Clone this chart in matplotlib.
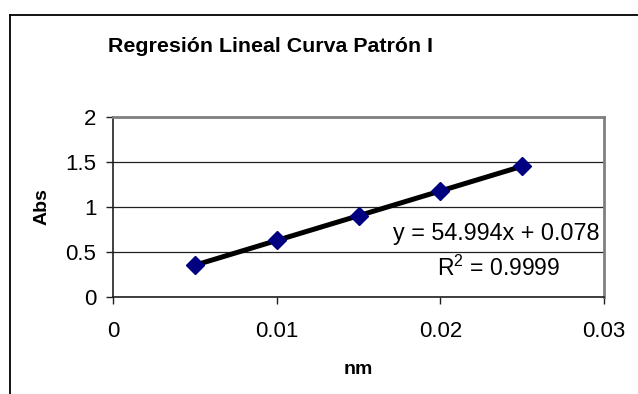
import matplotlib
matplotlib.use("Agg")
import matplotlib.pyplot as plt
from matplotlib.lines import Line2D
from matplotlib import font_manager
import numpy as np

plt.rcParams['font.family'] = ['Liberation Sans', 'DejaVu Sans']
plt.rcParams['mathtext.fontset'] = 'custom'
plt.rcParams['mathtext.rm'] = 'Liberation Sans'
plt.rcParams['mathtext.it'] = 'Liberation Sans'

# datos de la curva patrón
conc = [0.005, 0.010, 0.015, 0.020, 0.025]
absorb = [0.353, 0.628, 0.903, 1.178, 1.453]
pendiente = 54.994
intercepto = 0.078
r2 = 0.9999

fig = plt.figure(figsize=(6.38, 3.94), dpi=100)
ax = fig.add_axes([113/638, 1 - 297/394, 491/638, 180/394])

# marco exterior del gráfico (borde izquierdo y superior)
x0, y0 = 9.5/638, 1 - 14.5/394
fig.add_artist(Line2D([x0, 1.0], [y0, y0], transform=fig.transFigure,
                      color='black', lw=1.3))
fig.add_artist(Line2D([x0, x0], [0.0, y0], transform=fig.transFigure,
                      color='black', lw=1.3))

# recta de regresión
xr = np.array([conc[0], conc[-1]])
ax.plot(xr, pendiente * xr + intercepto, color='black', lw=3.6,
        solid_capstyle='butt', zorder=3)
ax.plot(conc, absorb, linestyle='none', marker='D', markersize=9.5,
        color='#000080', zorder=4)

ax.set_xlim(0, 0.03)
ax.set_ylim(0, 2)
ax.set_xticks([0, 0.01, 0.02, 0.03])
ax.set_xticklabels(['0', '0.01', '0.02', '0.03'])
ax.set_yticks([0, 0.5, 1, 1.5, 2])
ax.set_yticklabels(['0', '0.5', '1', '1.5', '2'])
ax.tick_params(labelsize=16, length=5, width=1, color='#202020',
               direction='out')
ax.tick_params(axis='x', pad=12)
ax.tick_params(axis='y', pad=7)

ax.grid(axis='y', color='#202020', lw=0.9)
ax.set_axisbelow(True)
for s in ['left', 'bottom']:
    ax.spines[s].set_color('#202020')
    ax.spines[s].set_linewidth(1.2)
for s in ['top', 'right']:
    ax.spines[s].set_color('#808080')
    ax.spines[s].set_linewidth(2)

ax.set_xlabel('nm', fontsize=14, fontweight='bold', va='center')
ax.xaxis.set_label_coords(0.5, -0.405)
ax.set_ylabel('Abs', fontsize=14, fontweight='bold', va='center')
ax.yaxis.set_label_coords(-0.145, 0.5)

ax.text(0.02975, 0.711, f'y = {pendiente}x + {intercepto}', fontsize=16.8,
        ha='right', va='center')
ax.text(0.0273, 0.322, f'R$^2$ = {r2}', fontsize=16.5, ha='right', va='center')

# título en letra estrecha si está disponible
nombres = {f.name for f in font_manager.fontManager.ttflist}
if 'Liberation Sans Narrow' in nombres:
    fam_titulo, tam_titulo = 'Liberation Sans Narrow', 18.8
else:
    fam_titulo, tam_titulo = 'Liberation Sans', 15.4
fig.text(270/638, 1 - 47/394, 'Regresión Lineal Curva Patrón I',
         family=fam_titulo, fontsize=tam_titulo, fontweight='bold',
         ha='center', va='center')

fig.savefig('out.png', dpi=100)
